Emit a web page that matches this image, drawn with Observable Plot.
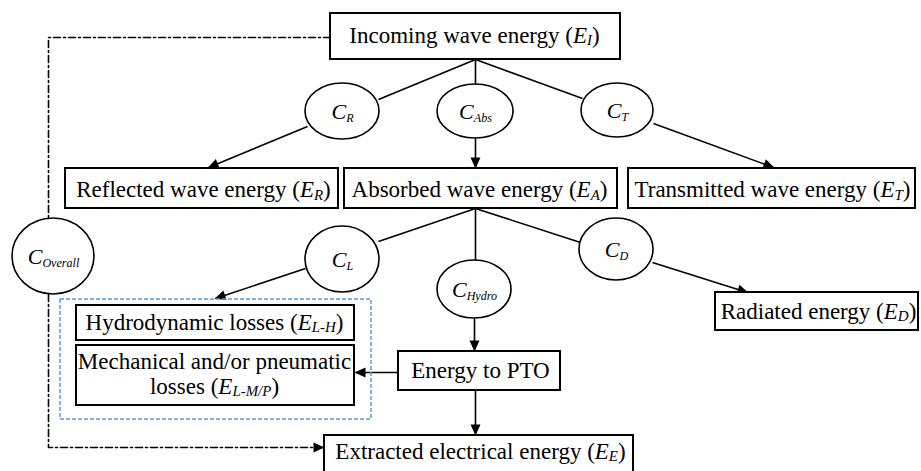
<!DOCTYPE html>
<html><head><meta charset="utf-8">
<script src="https://cdn.jsdelivr.net/npm/d3@7"></script>
<script src="https://cdn.jsdelivr.net/npm/@observablehq/plot@0.6"></script>
<style>html,body{margin:0;padding:0;background:#fff}</style>
</head><body><div id="chart"></div>
<script>
// ---- Diagram content ----
const boxLabels = [
  "Incoming wave energy (E{I})",
  "Reflected wave energy (E{R})",
  "Absorbed wave energy (E{A})",
  "Transmitted wave energy (E{T})",
  "Hydrodynamic losses (E{L-H})",
  "Mechanical and/or pneumatic",
  "losses (E{L-M/P})",
  "Energy to PTO",
  "Extracted electrical energy (E{E})",
  "Radiated energy (E{D})"
];
const coefLabels = ["C{R}", "C{Abs}", "C{T}", "C{L}", "C{Hydro}", "C{D}", "C{Overall}"];

// ---- Layout (pixel coordinates of the diagram) ----
const boxRects = [
  [330, 13, 620, 59],   // incoming
  [65, 168, 338, 208],  // reflected
  [344, 168, 617, 208], // absorbed
  [628, 168, 915, 208], // transmitted
  [76, 305, 354, 340],  // hydrodynamic
  [76, 345, 354, 405],  // mechanical
  [398, 351, 560, 390], // PTO
  [324, 435, 633, 480], // extracted
  [715, 292, 918, 330]  // radiated
];
const groupRect = [60, 299, 371, 419];
const labelPos = [
  [474, 35], [203, 189.5], [479, 189.5], [772, 189.5], [214, 322],
  [214, 361], [214, 386], [480, 370], [480, 451], [818, 311]
];
const coefPos = [ // cx, cy, rx, ry
  [342, 111, 37, 28], [475, 111, 38, 27], [617, 110, 36, 27],
  [342, 259, 37, 33], [474, 289, 37, 29], [616, 249, 37, 31],
  [53, 256, 41, 38]
];
const plainEdges = [
  [475, 59, 378, 99], [475, 59, 475, 84], [475, 59, 582, 98],
  [475, 208, 378, 241], [475, 208, 475, 260], [475, 208, 580, 242]
];
const arrowEdges = [
  [307, 126, 208, 167], [475, 138, 475, 167], [653, 123, 773, 167],
  [305, 268, 215, 298], [474, 318, 474, 350], [652, 262, 747, 292],
  [398, 372, 355, 372], [475, 390, 475, 434]
];
const overallPath1 = [[330, 37], [48, 37], [48, 218]];
const overallPath2 = [[48, 294], [48, 447], [323, 447]];

// ---- Derived tables ----
const FONT = "Liberation Serif";
const boxes = boxRects.map(([x1, y1, x2, y2]) => ({x1, y1, x2, y2}));
const labels = boxLabels.map((t, i) => ({text: t, x: labelPos[i][0], y: labelPos[i][1]}));
const coefs = coefLabels.map((t, i) => ({text: t, cx: coefPos[i][0], cy: coefPos[i][1], rx: coefPos[i][2], ry: coefPos[i][3]}));
const edges = plainEdges.concat(arrowEdges).map(([x1, y1, x2, y2]) => ({x1, y1, x2, y2}));
const heads = arrowEdges.map(([x1, y1, x2, y2]) => ({x: x2, y: y2, a: Math.atan2(y2 - y1, x2 - x1) * 180 / Math.PI}));
heads.push({x: 323, y: 447, a: 0});
const dashed = overallPath1.map(([x, y]) => ({x, y, g: 1})).concat(overallPath2.map(([x, y]) => ({x, y, g: 2})));

const arrowSymbol = {draw(ctx) { ctx.moveTo(1, 0); ctx.lineTo(-10, -5); ctx.lineTo(-10, 5); ctx.closePath(); }};

// Rich text: "X{sub}" -> italic X followed by a smaller italic subscript
function richText(subScale, subDrop) {
  return function (index, scales, values, dims, context, next) {
    const g = next(index, scales, values, dims, context);
    d3.select(g).selectAll("text").each(function () {
      const s = this.textContent;
      if (!s.includes("{")) return;
      const parts = s.split(/([A-Z])\{([^}]*)\}/);
      this.textContent = "";
      const el = d3.select(this);
      const up = (-subDrop * subScale).toFixed(3) + "em";
      let afterSub = false;
      for (let i = 0; i < parts.length; i += 3) {
        if (parts[i]) {
          const t = el.append("tspan").text(parts[i]);
          if (afterSub) t.attr("dy", up);
          afterSub = false;
        }
        if (i + 1 < parts.length) {
          const it = el.append("tspan").attr("font-style", "italic").text(parts[i + 1]);
          if (afterSub) it.attr("dy", up);
          el.append("tspan").attr("font-style", "italic").attr("font-size", subScale + "em")
            .attr("dy", subDrop + "em").text(parts[i + 2]);
          afterSub = true;
        }
      }
    });
    return g;
  };
}

function ellipses(index, scales, values, dims, context) {
  const g = d3.select(context.document.createElementNS(d3.namespaces.svg, "g"));
  for (const i of index) {
    const d = coefs[i];
    g.append("ellipse")
      .attr("cx", values.x[i]).attr("cy", values.y[i])
      .attr("rx", scales.x(d.cx + d.rx) - scales.x(d.cx))
      .attr("ry", scales.y(d.cy + d.ry) - scales.y(d.cy))
      .attr("fill", "white").attr("stroke", "black").attr("stroke-width", 1.6);
  }
  return g.node();
}

const chart = Plot.plot({
  width: 921, height: 471, margin: 0,
  x: {domain: [0, 921], range: [0, 921], axis: null},
  y: {domain: [0, 471], range: [0, 471], axis: null},
  marks: [
    Plot.line(dashed, {x: "x", y: "y", z: "g", stroke: "black", strokeWidth: 1.6, strokeDasharray: "7,3,2,3"}),
    Plot.link(edges, {x1: "x1", y1: "y1", x2: "x2", y2: "y2", stroke: "black", strokeWidth: 1.6}),
    Plot.dot(heads, {x: "x", y: "y", rotate: "a", symbol: arrowSymbol, fill: "black", stroke: "none", r: 5}),
    Plot.rect(boxes, {x1: "x1", y1: "y1", x2: "x2", y2: "y2", fill: "white", stroke: "black", strokeWidth: 2}),
    Plot.rect([groupRect], {x1: d => d[0], y1: d => d[1], x2: d => d[2], y2: d => d[3], fill: "none", stroke: "#5b9bd5", strokeWidth: 1.5, strokeDasharray: "4,2"}),
    Plot.dot(coefs, {x: "cx", y: "cy", render: ellipses}),
    Plot.text(labels, {x: "x", y: "y", text: "text", fontSize: 23, fontFamily: FONT, fill: "black", render: richText(0.65, 0.15)}),
    Plot.text(coefs, {x: "cx", y: "cy", text: "text", fontSize: 22, fontFamily: FONT, fill: "black", render: richText(0.55, 0.3)})
  ]
});
document.getElementById("chart").appendChild(chart);
</script>
</body></html>
